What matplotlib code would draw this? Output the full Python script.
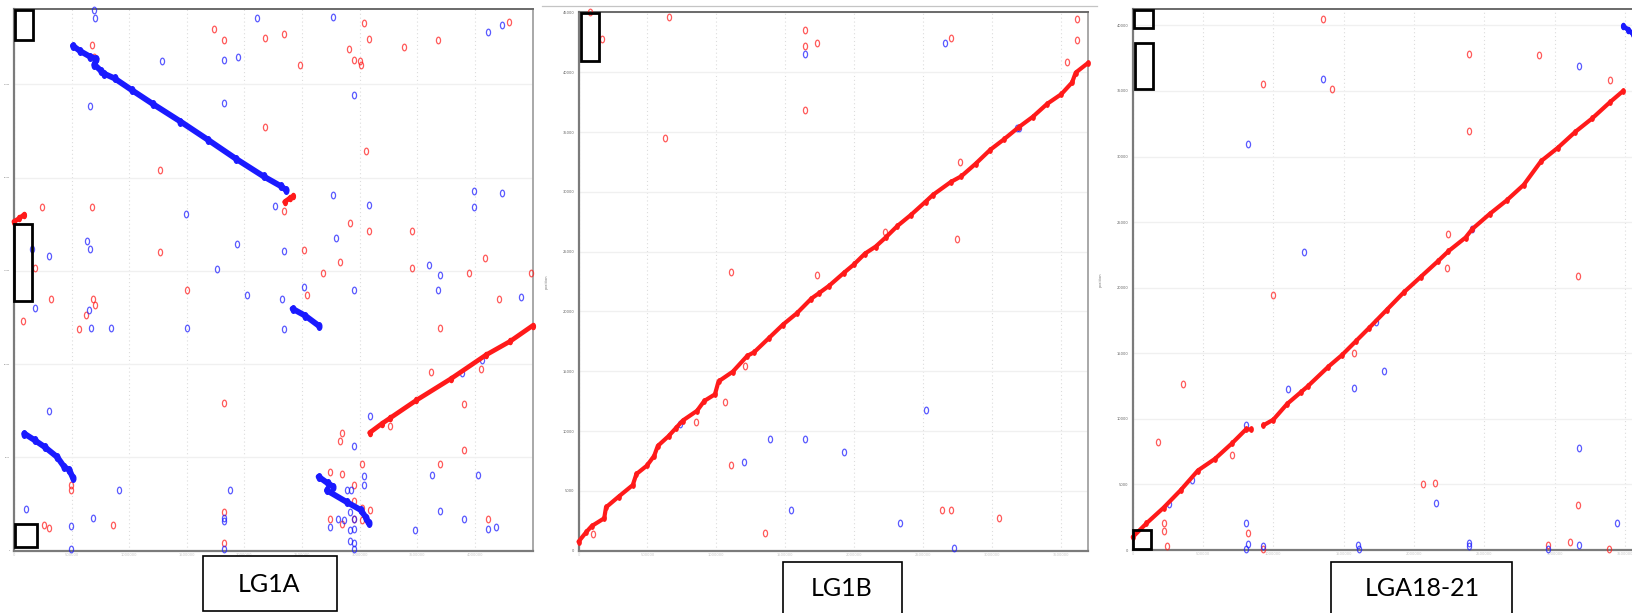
import numpy as np
import matplotlib.pyplot as plt
from matplotlib.patches import Rectangle
from matplotlib.path import Path
from matplotlib.lines import Line2D

W, H = 1633, 613

# ---------------- LG1A ----------------
lg1a_blue = np.array([
    (230, 1378), (235, 1358), (700, 1358), (920, 1360), (1365, 1320), (1407, 1340),
    (427, 1248), (605, 1250), (645, 1258), (980, 1160), (605, 1141), (220, 1133),
    (920, 905), (1022, 880), (1327, 915), (1327, 875), (1407, 910), (495, 858),
    (752, 878), (928, 796), (643, 780), (777, 763), (212, 788), (220, 768),
    (52, 768), (102, 751), (585, 718), (1197, 728), (1228, 701), (836, 671),
    (980, 665), (1222, 663), (673, 650), (774, 640), (1460, 645), (60, 618),
    (215, 613), (222, 568), (280, 568), (500, 568), (777, 565), (102, 355),
    (1025, 343), (980, 265), (1204, 193), (1337, 193), (1010, 191), (1010, 166),
    (304, 155), (623, 153), (960, 153), (970, 153), (35, 106), (1228, 100),
    (228, 83), (605, 83), (605, 75), (1298, 80), (165, 63), (935, 81),
    (912, 60), (968, 98), (980, 81), (968, 53), (980, 56), (1155, 51),
    (1365, 56), (1388, 61), (165, 3), (605, 3), (980, 18), (968, 23),
    (980, 5), (950, 78), (1290, 453), (1350, 486),
])
lg1a_red = np.array([
    (578, 1328), (605, 1301), (725, 1306), (777, 1315), (1010, 1343), (1022, 1303),
    (1427, 1346), (1222, 1300), (1125, 1283), (225, 1288), (232, 1258), (965, 1278),
    (980, 1250), (997, 1248), (1000, 1238), (823, 1236), (725, 1080), (1015, 1019),
    (420, 970), (777, 866), (225, 876), (82, 876), (968, 835), (1022, 813),
    (1148, 813), (420, 760), (836, 766), (940, 735), (60, 721), (1148, 721),
    (1358, 745), (890, 706), (1310, 706), (1490, 706), (500, 665), (845, 650),
    (108, 640), (228, 640), (235, 625), (1397, 641), (208, 601), (27, 585),
    (188, 565), (1227, 566), (1203, 456), (1345, 463), (605, 375), (1298, 373),
    (1083, 318), (945, 300), (940, 278), (1298, 256), (1227, 220), (1003, 220),
    (912, 201), (945, 196), (165, 166), (165, 153), (980, 166), (980, 126),
    (1003, 108), (605, 98), (912, 81), (980, 81), (1003, 78), (1025, 103),
    (1365, 80), (88, 66), (102, 58), (285, 66), (605, 18), (945, 68),
])
lg1a_blue_runs = [
    np.array([(170, 1286), (190, 1273), (220, 1258), (238, 1253), (232, 1238), (250, 1223),
              (260, 1215), (290, 1203), (340, 1173), (400, 1138), (480, 1093), (560, 1046),
              (640, 998), (720, 953), (770, 928), (785, 918)]),
    np.array([(803, 616), (840, 598), (878, 573)]),
    np.array([(30, 298), (60, 281), (90, 263), (125, 238), (145, 213), (160, 205), (170, 185)]),
    np.array([(878, 188), (905, 171), (920, 163)]),
    np.array([(902, 153), (960, 123), (1000, 103), (1015, 83), (1022, 70)]),
]
lg1a_red_runs = [
    np.array([(0, 838), (15, 846), (30, 856)]),
    np.array([(780, 888), (795, 898), (805, 903)]),
    np.array([(1025, 300), (1060, 323), (1085, 338), (1160, 383), (1260, 438),
              (1360, 498), (1430, 533), (1495, 573)]),
]

# ---------------- LG1B ----------------
lg1b_red_run = np.array([
    (0, 23), (22, 48), (37, 63), (72, 83), (77, 111), (112, 138), (152, 168), (162, 196),
    (192, 218), (212, 243), (222, 268), (252, 293), (272, 313), (292, 333), (332, 358),
    (352, 383), (382, 400), (392, 433), (432, 458), (472, 498), (492, 508), (532, 543),
    (572, 578), (612, 608), (652, 645), (672, 658), (702, 678), (742, 710), (772, 733),
    (802, 760), (832, 778), (862, 803), (892, 830), (932, 860), (972, 893), (992, 910),
    (1042, 943), (1072, 958), (1112, 990), (1152, 1025), (1192, 1053), (1232, 1083),
    (1272, 1110), (1312, 1143), (1352, 1168), (1382, 1198), (1392, 1223), (1427, 1248),
])
lg1b_red = np.array([
    (252, 1366), (67, 1308), (634, 1333), (634, 1290), (669, 1298), (634, 1128),
    (242, 1056), (1044, 1311), (1397, 1361), (1397, 1306), (1369, 1251), (1069, 995),
    (1060, 798), (859, 815), (428, 713), (669, 706), (467, 473), (409, 380),
    (329, 328), (428, 220), (523, 46), (1017, 103), (1044, 105), (1176, 83),
    (40, 43), (32, 1378),
])
lg1b_blue = np.array([
    (634, 1271), (1026, 1298), (974, 361), (535, 285), (633, 285), (742, 253),
    (464, 226), (594, 105), (901, 71), (1052, 8), (284, 323), (1227, 1081), (1232, 1081),
])

# ---------------- LGA18-21 ----------------
lga_red_runs = [
    np.array([(0, 33), (40, 68), (90, 108), (140, 153), (190, 203), (240, 233),
              (290, 273), (330, 308), (345, 308)]),
    np.array([(380, 318), (410, 333), (450, 373), (490, 403), (510, 418), (570, 468),
              (610, 498), (650, 533), (690, 568), (740, 613), (790, 658), (840, 698),
              (890, 738), (920, 763), (970, 798), (990, 820), (1040, 858), (1090, 893),
              (1140, 933), (1190, 993), (1240, 1028), (1290, 1068), (1340, 1103),
              (1390, 1143), (1430, 1173)]),
]
lga_blue_run = np.array([(1430, 1338), (1445, 1328), (1458, 1318)])
lga_red = np.array([
    (555, 1355), (980, 1268), (1183, 1265), (380, 1191), (582, 1178), (1390, 1200),
    (980, 1070), (410, 651), (920, 808), (915, 720), (1298, 700), (645, 503),
    (147, 423), (75, 276), (290, 243), (845, 168), (882, 170), (1298, 116),
    (90, 68), (92, 48), (335, 43), (100, 10), (380, 3), (1210, 13), (1275, 20), (1387, 3),
])
lga_blue = np.array([
    (555, 1203), (1300, 1235), (337, 1036), (500, 760), (732, 457), (452, 411),
    (645, 413), (1300, 260), (883, 119), (1412, 70), (331, 68), (335, 15),
    (331, 3), (380, 10), (658, 13), (660, 3), (980, 18), (980, 10), (1210, 3),
    (1300, 13), (105, 118), (173, 178), (330, 318), (708, 583), (990, 820),
])

RED = '#ff1a1a'
BLUE = '#1a1aff'

t = np.linspace(0, 2 * np.pi, 25)
ring = Path(np.column_stack([0.62 * np.cos(t), np.sin(t)]))


def fx(px):
    return px / W


def fy(py):
    return 1 - py / H


def add_axes(l, r, t_, b):
    return fig.add_axes([fx(l), fy(b), fx(r) - fx(l), fy(t_) - fy(b)])


def dots(ax, pts, color, alpha=0.72):
    ax.plot(pts[:, 0], pts[:, 1], ls='none', marker=ring, ms=4.8, mfc='none',
            mec=color, mew=0.9, alpha=alpha, clip_on=False, zorder=3)


def run(ax, pts, color, lw):
    ax.plot(pts[:, 0], pts[:, 1], '-', color=color, lw=lw, solid_capstyle='round',
            solid_joinstyle='round', clip_on=False, zorder=4)
    ax.plot(pts[:, 0], pts[:, 1], ls='none', marker=ring, ms=lw * 1.3, mfc=color,
            mec=color, mew=1.0, clip_on=False, zorder=4)


def style(ax, xmax, ymax, dx, dy, ylab_size=2.6):
    ax.set_xlim(0, xmax)
    ax.set_ylim(0, ymax)
    xt = [dx * k for k in range(int(xmax // dx) + 1)]
    yt = [dy * k for k in range(int(ymax // dy) + 1)]
    ax.set_xticks(xt)
    ax.set_yticks(yt)
    ax.set_xticklabels([f'{k * 500000}' for k in range(len(xt))])
    ax.set_yticklabels([f'{k * 5000}' for k in range(len(yt))])
    ax.tick_params(axis='x', length=0, labelsize=2.6, labelcolor='#c8c8c8', pad=1.5)
    ax.tick_params(axis='y', length=0, labelsize=ylab_size, labelcolor='#666666', pad=3)
    ax.grid(axis='y', color='#f0f0f0', lw=1.0, ls='-')
    ax.grid(axis='x', color='#dcdcdc', lw=0.8, ls=(0, (1, 2.5)))
    ax.set_axisbelow(True)
    for s in ['left', 'bottom']:
        ax.spines[s].set_color('#7b7b7b')
        ax.spines[s].set_linewidth(1.6)
    ax.spines['top'].set_color('#6a6a6a')
    ax.spines['top'].set_linewidth(1.4)
    ax.spines['right'].set_color('#a8a8a8')
    ax.spines['right'].set_linewidth(1.4)


def box(l, t_, r, b, lw):
    fig.add_artist(Rectangle((fx(l), fy(b)), fx(r) - fx(l), fy(t_) - fy(b),
                             transform=fig.transFigure, fill=False, ec='black', lw=lw))


fig = plt.figure(figsize=(W / 100, H / 100), dpi=100)

# panel 1
ax1 = add_axes(13.9, 532.7, 8.5, 550.5)
style(ax1, 1495, 1381, 1495 / 9, 237.5, ylab_size=1.4)
dots(ax1, lg1a_red, RED)
dots(ax1, lg1a_blue, BLUE)
for r in lg1a_blue_runs:
    run(ax1, r, BLUE, 4.2)
for r in lg1a_red_runs:
    run(ax1, r, RED, 3.4)

# panel 2
ax2 = add_axes(578.5, 1088.2, 12.0, 550.7)
style(ax2, 1427, 1378, 193, 153)
dots(ax2, lg1b_red, RED)
run(ax2, lg1b_red_run, RED, 3.0)
dots(ax2, lg1b_blue, BLUE)
ax2.set_ylabel('position', fontsize=2.6, color='#777777', labelpad=10)

# panel 3
ax3 = add_axes(1132.7, 1640.5, 9.3, 550.0)
style(ax3, 1480, 1381, 205, 167.5)
dots(ax3, lga_red, RED)
for r in lga_red_runs:
    run(ax3, r, RED, 3.0)
run(ax3, lga_blue_run, BLUE, 3.4)
dots(ax3, lga_blue, BLUE)
ax3.set_ylabel('position', fontsize=2.6, color='#777777', labelpad=10)

# thin line above the middle panel
fig.add_artist(Line2D([fx(542), fx(1097)], [fy(6), fy(6)], transform=fig.transFigure,
                      color='#c4c4c4', lw=0.9))

# highlight rectangles
box(14.6, 10.5, 33.5, 40.3, 2.0)
box(13.9, 224, 32, 301, 2.0)
box(14.6, 524, 37.5, 547, 2.0)
box(580.7, 13.3, 599, 60.7, 2.0)
box(1134, 10, 1153, 28, 2.0)
box(1135, 42.7, 1153, 89.3, 2.0)
box(1132.7, 530, 1151, 548.5, 2.0)

# label boxes
box(202.7, 556, 337.3, 610.7, 1.2)
box(783, 562, 902, 640, 1.2)
box(1331, 562.3, 1511.7, 640, 1.2)
for label, cx, cy in [('LG1A', 269.5, 584), ('LG1B', 842, 589), ('LGA18-21', 1422.5, 588.7)]:
    fig.text(fx(cx), fy(cy), label, ha='center', va='center', fontsize=18,
             family='Lato', color='black')

fig.savefig('out.png', dpi=100)
